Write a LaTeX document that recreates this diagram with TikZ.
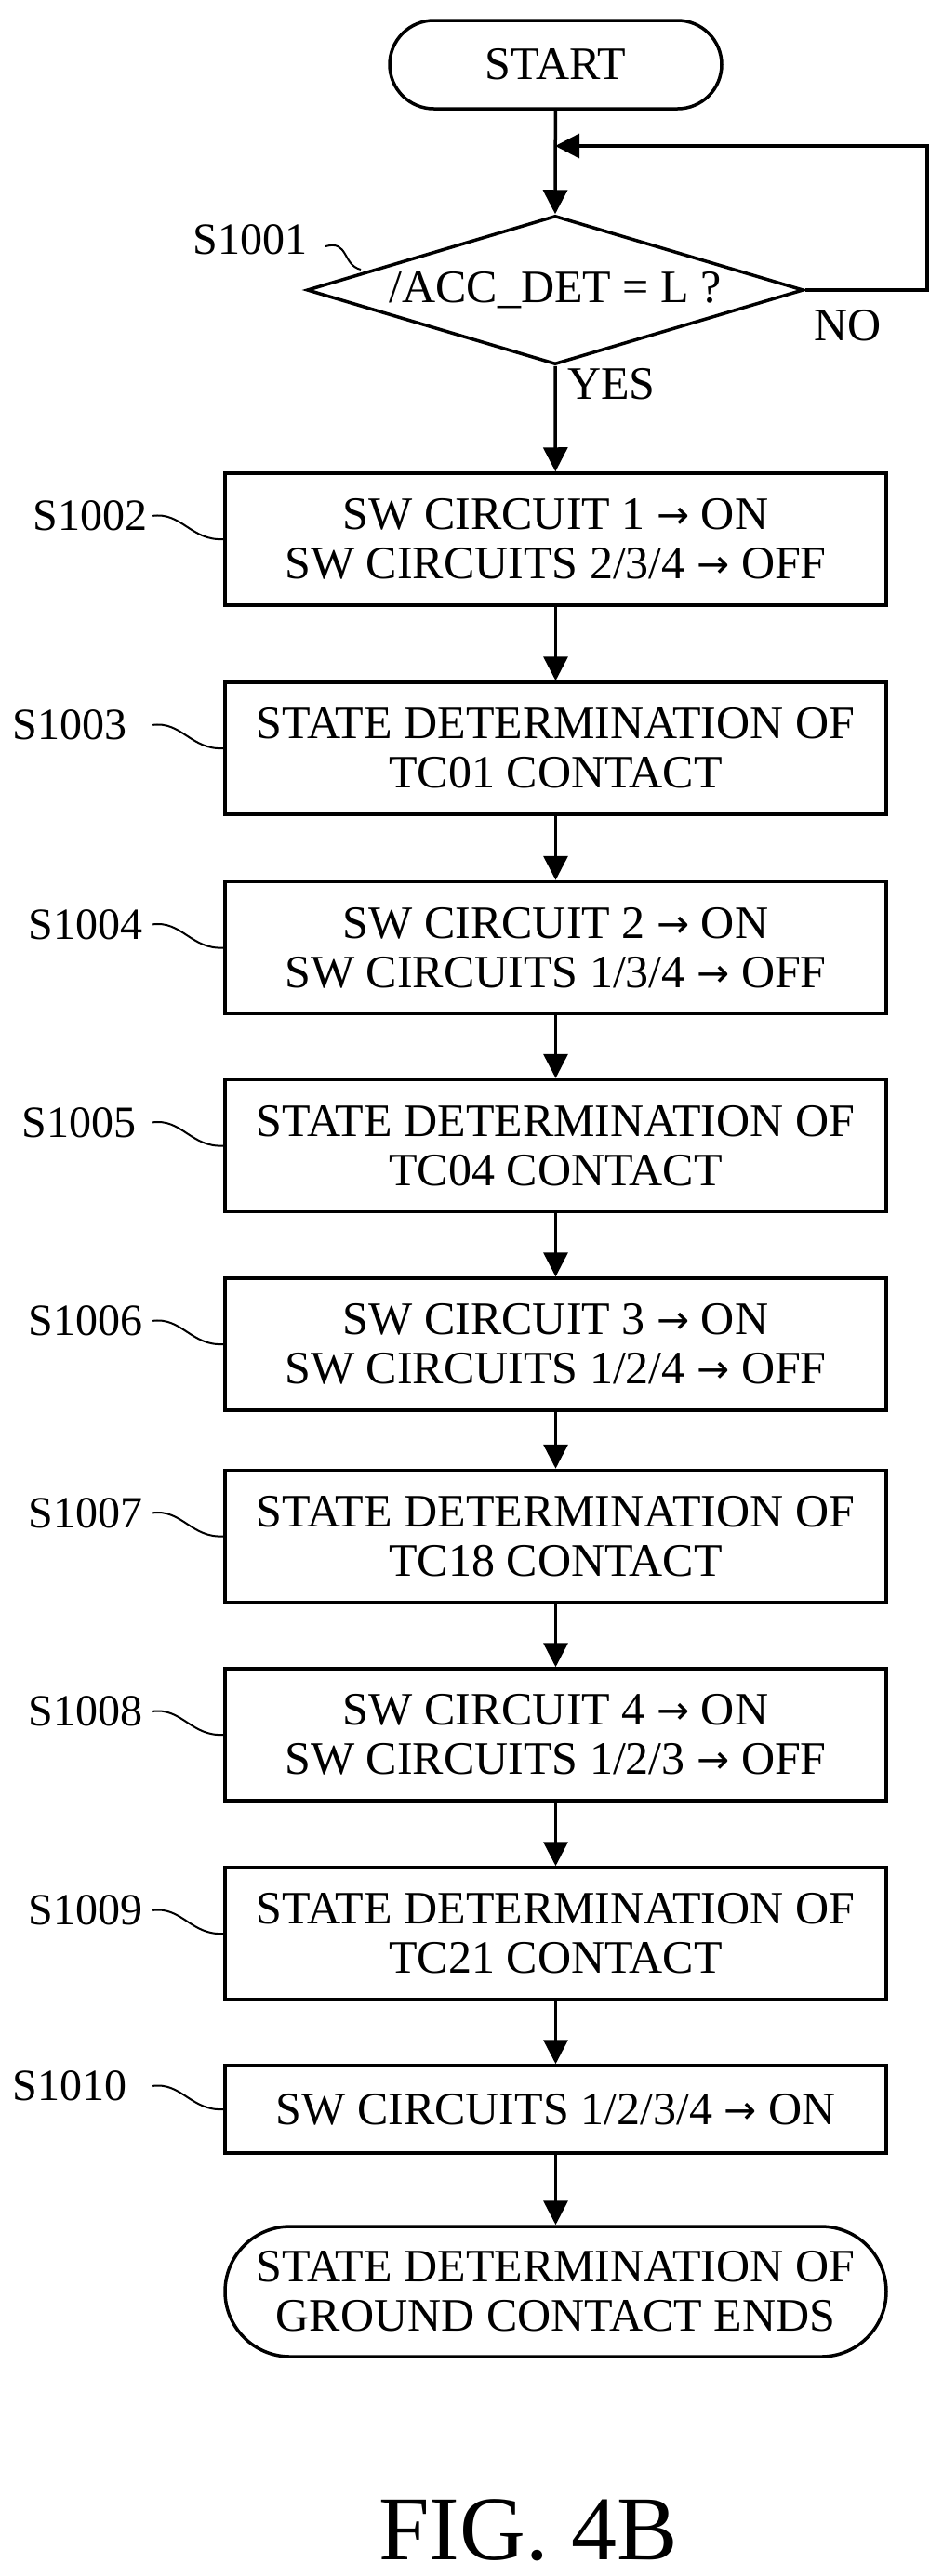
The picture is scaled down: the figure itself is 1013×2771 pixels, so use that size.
\documentclass[tikz,border=0pt]{standalone}
\usepackage{fontspec}
\setmainfont{Liberation Serif}
\newfontfamily\arf{DejaVu Sans}
\usetikzlibrary{shapes.geometric,shapes.misc,arrows.meta}
\newcommand{\ar}{\raisebox{1pt}{\arf\fontsize{42}{42}\selectfont →}}
\begin{document}
\begin{tikzpicture}[x=1pt,y=-1pt,
  line width=3.5pt,
  font=\fontsize{50}{53}\selectfont,
  box/.style={draw,minimum width=711pt,minimum height=142pt,align=center,inner sep=0pt},
  term/.style={draw,rounded rectangle,align=center,inner sep=0pt},
  arr/.style={-{Triangle[width=26pt,length=26pt]}},
  lab/.style={anchor=east,inner sep=0pt,font=\fontsize{48}{50}\selectfont},
  sq/.style={line width=2pt}]
\useasboundingbox (0,0) rectangle (1013,2771);
\node[term,minimum width=357pt,minimum height=95pt] (start) at (597.5,69.5) {START};
\node[draw,diamond,aspect=3.34,minimum width=534pt,minimum height=160pt,inner sep=0pt] (d) at (597,312) {};
\node at (597,312) {/ACC\_DET = L ?};
\coordinate (loop) at (597,157);
\node[box] (b2) at (597.5,580) {SW CIRCUIT 1 \ar{} ON\\SW CIRCUITS 2/3/4 \ar{} OFF};
\node[box] (b3) at (597.5,805) {STATE DETERMINATION OF\\TC01 CONTACT};
\node[box] (b4) at (597.5,1019.5) {SW CIRCUIT 2 \ar{} ON\\SW CIRCUITS 1/3/4 \ar{} OFF};
\node[box] (b5) at (597.5,1232.5) {STATE DETERMINATION OF\\TC04 CONTACT};
\node[box] (b6) at (597.5,1446) {SW CIRCUIT 3 \ar{} ON\\SW CIRCUITS 1/2/4 \ar{} OFF};
\node[box] (b7) at (597.5,1652.5) {STATE DETERMINATION OF\\TC18 CONTACT};
\node[box] (b8) at (597.5,1866) {SW CIRCUIT 4 \ar{} ON\\SW CIRCUITS 1/2/3 \ar{} OFF};
\node[box] (b9) at (597.5,2080) {STATE DETERMINATION OF\\TC21 CONTACT};
\node[box,minimum height=94pt] (b10) at (597.5,2269) {SW CIRCUITS 1/2/3/4 \ar{} ON};
\node[term,minimum width=711pt,minimum height=140pt] (end) at (597.5,2465) {STATE DETERMINATION OF\\GROUND CONTACT ENDS};
\node[font=\fontsize{98}{100}\selectfont] (fig) at (568,2722) {FIG. 4B};
\draw[arr] (start) -- (d.north);
\draw[arr] (d.east) -- (997,312) -- (997,157) -- (loop);
\node[anchor=west] (no) at (870,350) {NO};
\node[anchor=west] (yes) at (605,413) {YES};
\draw[arr] (d.south) -- (b2);
\draw[arr] (b2) -- (b3);
\draw[arr] (b3) -- (b4);
\draw[arr] (b4) -- (b5);
\draw[arr] (b5) -- (b6);
\draw[arr] (b6) -- (b7);
\draw[arr] (b7) -- (b8);
\draw[arr] (b8) -- (b9);
\draw[arr] (b9) -- (b10);
\draw[arr] (b10) -- (end);
% labels
\node[lab] (l1) at (332,258) {S1001};
\draw[sq] (350,265) .. controls (375,258) and (368,285) .. (388,290);
\foreach \n/\b/\dx in {2/b2/0,3/b3/22,4/b4/5,5/b5/12,6/b6/5,7/b7/5,8/b8/5,9/b9/5,10/b10/22}{
  \node[lab] (l\n) at ([xshift=-80-\dx pt,yshift=25pt]\b.west) {S10\ifnum\n<10 0\fi\n};
  \draw[sq] ([xshift=-77pt,yshift=25pt]\b.west) .. controls ([xshift=-45pt,yshift=30pt]\b.west) and ([xshift=-35pt,yshift=-2pt]\b.west) .. (\b.west);
}
\end{tikzpicture}
\end{document}
